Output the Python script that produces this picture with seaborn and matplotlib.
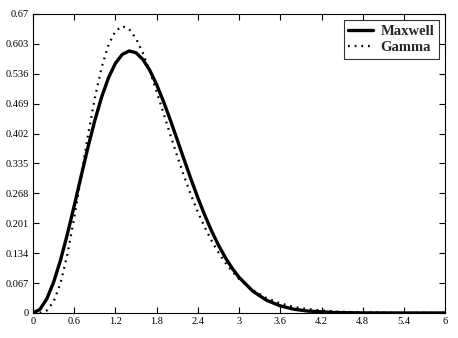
import numpy as np
import pandas as pd
import seaborn as sns
import matplotlib.pyplot as plt

# x positions
x = [0.0, 0.1, 0.2, 0.3, 0.4, 0.5, 0.6, 0.7, 0.8, 0.9,
     1.0, 1.1, 1.2, 1.3, 1.4, 1.5, 1.6, 1.7, 1.8, 1.9,
     2.0, 2.1, 2.2, 2.3, 2.4, 2.5, 2.6, 2.7, 2.8, 2.9,
     3.0, 3.2, 3.4, 3.6, 3.8, 4.0, 4.4, 4.8, 5.4, 6.0]

maxwell = [0.0, 0.0079, 0.0313, 0.0687, 0.1179, 0.1760, 0.2399, 0.3060, 0.3708, 0.4311,
           0.4839, 0.5272, 0.5593, 0.5792, 0.5869, 0.5828, 0.5679, 0.5436, 0.5116, 0.4737,
           0.4319, 0.3879, 0.3434, 0.2997, 0.2580, 0.2191, 0.1837, 0.1519, 0.1241, 0.1001,
           0.0798, 0.0488, 0.0285, 0.0159, 0.0084, 0.0043, 0.0010, 0.0002, 0.0, 0.0]

gamma = [0.0, 0.0003, 0.0055, 0.0250, 0.0663, 0.1306, 0.2131, 0.3051, 0.3974, 0.4813,
         0.5504, 0.6009, 0.6314, 0.6425, 0.6359, 0.6148, 0.5823, 0.5417, 0.4959, 0.4475,
         0.3988, 0.3513, 0.3062, 0.2643, 0.2262, 0.1920, 0.1618, 0.1355, 0.1127, 0.0932,
         0.0766, 0.0510, 0.0334, 0.0215, 0.0136, 0.0086, 0.0032, 0.0012, 0.0003, 0.0001]

xticks = [0, 0.6, 1.2, 1.8, 2.4, 3, 3.6, 4.2, 4.8, 5.4, 6]
xticklabels = ["0", "0.6", "1.2", "1.8", "2.4", "3", "3.6", "4.2", "4.8", "5.4", "6"]
yticks = [0, 0.067, 0.134, 0.201, 0.268, 0.335, 0.402, 0.469, 0.536, 0.603, 0.67]
yticklabels = ["0", "0.067", "0.134", "0.201", "0.268", "0.335", "0.402", "0.469", "0.536", "0.603", "0.67"]

sns.set_style("white")
plt.rcParams["font.family"] = ["Liberation Serif", "DejaVu Serif"]

fig = plt.figure(figsize=(4.58, 3.38), dpi=100)
ax = fig.add_axes([0.072, 0.074, 0.9, 0.885])

sns.lineplot(x=x, y=maxwell, ax=ax, color="black", linewidth=2.4, label="Maxwell")
sns.lineplot(x=x, y=gamma, ax=ax, color="black", linewidth=1.6, dashes=False, label="Gamma")
ax.lines[1].set_dashes([0.8, 2.2])

ax.set_xlim(0, 6)
ax.set_ylim(0, 0.67)
ax.set_xticks(xticks)
ax.set_xticklabels(xticklabels)
ax.set_yticks(yticks)
ax.set_yticklabels(yticklabels)
ax.tick_params(direction="in", length=4, width=0.8, labelsize=7.5, colors="black",
               top=True, right=True, bottom=True, left=True, pad=3)
for sp in ax.spines.values():
    sp.set_color("black")
    sp.set_linewidth(0.8)

leg = ax.legend(loc="upper right", frameon=True, fancybox=False, handlelength=1.7,
                prop={"weight": "bold", "size": 10.5}, borderpad=0.3, labelspacing=0.2,
                handletextpad=0.5, borderaxespad=0.45)
leg.get_frame().set_edgecolor("black")
leg.get_frame().set_linewidth(0.8)
leg.get_lines()[1].set_dashes([0.8, 2.2])

fig.savefig("out.png", dpi=100)
